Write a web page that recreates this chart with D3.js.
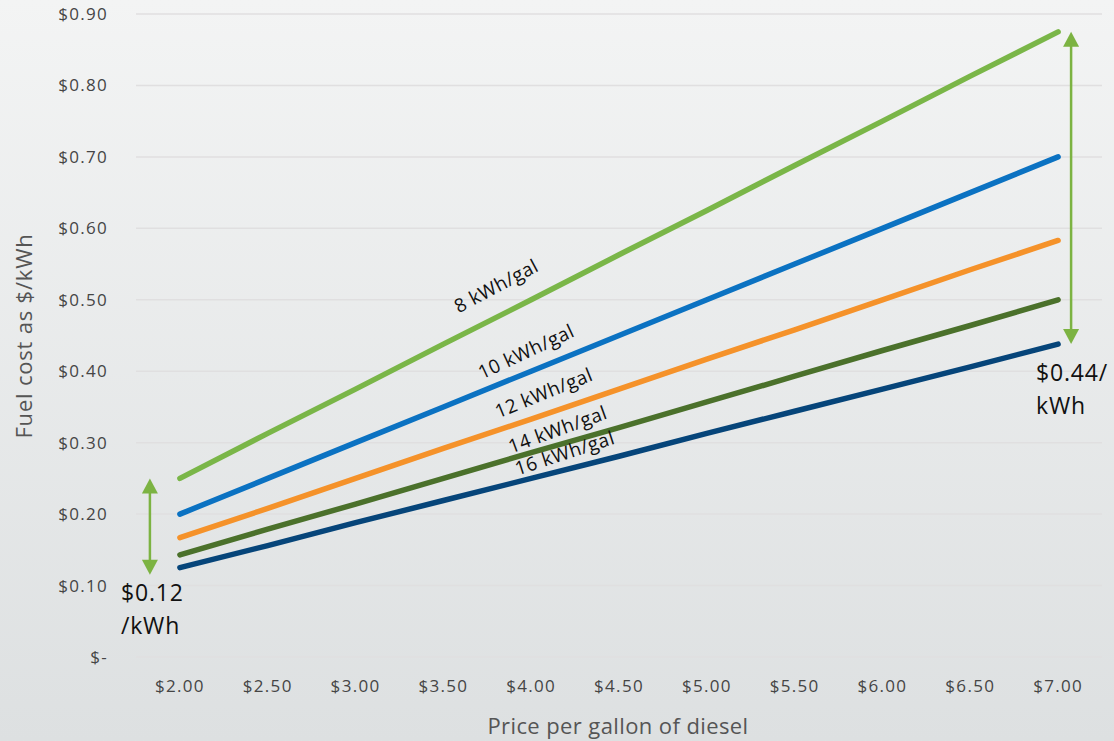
<!DOCTYPE html>
<html>
<head>
<meta charset="utf-8">
<script src="https://cdn.jsdelivr.net/npm/d3@7"></script>
<style>
  html, body { margin: 0; padding: 0; background: #eceeef; }
  svg { display: block; }
  text { font-family: "Open Sans", "Noto Sans", sans-serif; }
</style>
</head>
<body>
<svg id="chart" width="1114" height="741"></svg>
<script>
// Diesel price per gallon (x categories)
const prices = ["$2.00", "$2.50", "$3.00", "$3.50", "$4.00", "$4.50", "$5.00", "$5.50", "$6.00", "$6.50", "$7.00"];

// Fuel cost in $/kWh for each generator efficiency
const cost8  = [0.250, 0.313, 0.375, 0.438, 0.500, 0.563, 0.625, 0.688, 0.750, 0.813, 0.875];
const cost10 = [0.200, 0.250, 0.300, 0.350, 0.400, 0.450, 0.500, 0.550, 0.600, 0.650, 0.700];
const cost12 = [0.167, 0.208, 0.250, 0.292, 0.333, 0.375, 0.417, 0.458, 0.500, 0.542, 0.583];
const cost14 = [0.143, 0.179, 0.214, 0.250, 0.286, 0.321, 0.357, 0.393, 0.429, 0.464, 0.500];
const cost16 = [0.125, 0.156, 0.188, 0.219, 0.250, 0.281, 0.313, 0.344, 0.375, 0.406, 0.438];

const seriesNames = ["8 kWh/gal", "10 kWh/gal", "12 kWh/gal", "14 kWh/gal", "16 kWh/gal"];
const seriesValues = [cost8, cost10, cost12, cost14, cost16];

// Y axis ticks
const yTicks = [0, 0.1, 0.2, 0.3, 0.4, 0.5, 0.6, 0.7, 0.8, 0.9];
const yTickLabels = ["$-", "$0.10", "$0.20", "$0.30", "$0.40", "$0.50", "$0.60", "$0.70", "$0.80", "$0.90"];

// Range callouts
const lowCallout = ["$0.12", "/kWh"];
const highCallout = ["$0.44/", "kWh"];

const colors = ["#7ab648", "#0b72c2", "#f5922a", "#4b712b", "#06457a"];

const svg = d3.select("#chart");
const W = 1114, H = 741;
const plot = { left: 136, right: 1102, top: 14, bottom: 657 };

// Background wash
const defs = svg.append("defs");
const grad = defs.append("linearGradient").attr("id", "bg").attr("x1", 0).attr("y1", 0).attr("x2", 0).attr("y2", 1);
grad.append("stop").attr("offset", "0%").attr("stop-color", "#f3f4f4");
grad.append("stop").attr("offset", "100%").attr("stop-color", "#dde0e1");
svg.append("rect").attr("width", W).attr("height", H).attr("fill", "url(#bg)");

const x = d3.scaleBand().domain(prices).range([plot.left, plot.right]).padding(0);
const xc = d => x(d) + x.bandwidth() / 2;
const y = d3.scaleLinear().domain([0, 0.9]).range([plot.bottom, plot.top]);

// Gridlines
svg.append("g").selectAll("line").data(yTicks).join("line")
  .attr("x1", plot.left).attr("x2", plot.right)
  .attr("y1", d => y(d)).attr("y2", d => y(d))
  .attr("stroke", "#e0dfe0").attr("stroke-width", 1.5);

// Y axis
const yAxis = d3.axisLeft(y).tickValues(yTicks)
  .tickFormat((d, i) => yTickLabels[i]).tickSize(0).tickPadding(0);
const gy = svg.append("g").attr("transform", "translate(108,0)").call(yAxis);
gy.select(".domain").remove();
gy.selectAll("text").attr("font-size", 17).attr("fill", "#454545")
  .attr("letter-spacing", 1.3).attr("font-family", "Open Sans, sans-serif");

// X axis
const xAxis = d3.axisBottom(x).tickSize(0).tickPadding(0);
const gx = svg.append("g").attr("transform", "translate(0,680)").call(xAxis);
gx.select(".domain").remove();
gx.selectAll("text").attr("font-size", 17).attr("fill", "#454545")
  .attr("letter-spacing", 1.3).attr("font-family", "Open Sans, sans-serif");

// Axis titles
svg.append("text").attr("x", 618).attr("y", 734).attr("text-anchor", "middle")
  .attr("font-size", 22).attr("letter-spacing", 0.4).attr("fill", "#555").text("Price per gallon of diesel");
svg.append("text").attr("transform", "translate(32,336) rotate(-90)").attr("text-anchor", "middle")
  .attr("font-size", 22).attr("letter-spacing", 0.8).attr("fill", "#555").text("Fuel cost as $/kWh");

// Series lines
const line = d3.line().x((d, i) => xc(prices[i])).y(d => y(d));
svg.append("g").selectAll("path").data(seriesValues).join("path")
  .attr("d", d => line(d))
  .attr("fill", "none")
  .attr("stroke", (d, i) => colors[i])
  .attr("stroke-width", 5.5)
  .attr("stroke-linecap", "round");

// Inline series labels: price position, pixel lift above the line, rotation
const labelPlacement = [
  { at: 3.80, lift: 32, angle: -28 },
  { at: 3.97, lift: 22, angle: -25 },
  { at: 4.07, lift: 22, angle: -22 },
  { at: 4.15, lift: 16, angle: -20 },
  { at: 4.19, lift: 17, angle: -18 }
];
const priceToX = p => xc(prices[0]) + (p - 2) / 0.5 * x.bandwidth();
seriesNames.forEach((name, i) => {
  const vals = seriesValues[i];
  const p = labelPlacement[i];
  const t = (p.at - 2) / 5;
  const v = vals[0] + (vals[vals.length - 1] - vals[0]) * t;
  const px = priceToX(p.at), py = y(v) - p.lift;
  svg.append("text")
    .attr("transform", `translate(${px},${py}) rotate(${p.angle})`)
    .attr("text-anchor", "middle").attr("dominant-baseline", "central")
    .attr("font-size", 19).attr("letter-spacing", 0.5).attr("fill", "#111").text(name);
});

// Range arrows
const arrowColor = "#7cb342";
function arrow(xPos, vTop, vBottom) {
  const yt = y(vTop), yb = y(vBottom);
  const hw = 8, hh = 15;
  const g = svg.append("g");
  g.append("line").attr("x1", xPos).attr("x2", xPos).attr("y1", yt + hh - 1).attr("y2", yb - hh + 1)
    .attr("stroke", arrowColor).attr("stroke-width", 2.5);
  g.append("path").attr("d", `M${xPos},${yt} L${xPos - hw},${yt + hh} L${xPos + hw},${yt + hh} Z`).attr("fill", arrowColor);
  g.append("path").attr("d", `M${xPos},${yb} L${xPos - hw},${yb - hh} L${xPos + hw},${yb - hh} Z`).attr("fill", arrowColor);
}
arrow(xc(prices[0]) - 30, cost8[0], cost16[0] - 0.01);
arrow(xc(prices[prices.length - 1]) + 13, cost8[cost8.length - 1], cost16[cost16.length - 1]);

// Callout texts
function callout(xPos, yPos, lines) {
  const t = svg.append("text").attr("x", xPos).attr("y", yPos).attr("font-size", 23)
    .attr("letter-spacing", 0.8).attr("fill", "#111");
  lines.forEach((s, i) => t.append("tspan").attr("x", xPos).attr("dy", i === 0 ? 0 : 33).text(s));
}
callout(121, 601, lowCallout);
callout(1036, 381, highCallout);
</script>
</body>
</html>
